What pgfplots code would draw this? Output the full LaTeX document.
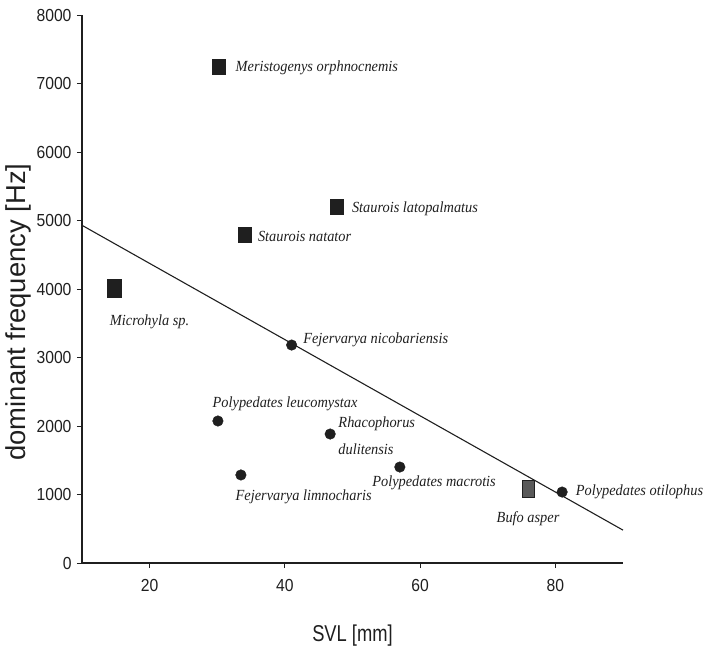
\documentclass[border=0pt]{standalone}
\usepackage{pgfplots}
\pgfplotsset{compat=1.18}
\usepackage{fontspec}
\setmainfont{Liberation Serif}
\newfontfamily\ticksf{Liberation Sans}[FakeStretch=0.9]
\newfontfamily\xlabsf{Liberation Sans}[FakeStretch=0.8]
\newfontfamily\ylabsf{Liberation Sans}
\newfontfamily\labit{Liberation Serif Italic}[FakeStretch=0.93]
\definecolor{ink}{gray}{0.12}
\tikzset{lab/.style={font=\labit\fontsize{15.5}{18}\selectfont, text=ink, inner sep=0pt, anchor=west}}
\begin{document}
\begin{tikzpicture}
\begin{axis}[
  at={(0,0)}, anchor=south west,
  scale only axis, width=541bp, height=548bp,
  xmin=10, xmax=90, ymin=0, ymax=8000,
  axis x line*=bottom, axis y line*=left,
  axis line style={-, line width=1.1pt, ink},
  xtick={20,40,60,80}, ytick={0,1000,...,8000},
  tick align=outside, major tick length=5bp,
  tick style={line width=0.9pt, ink},
  scaled ticks=false,
  /pgf/number format/1000 sep={},
  /pgf/number format/assume math mode=true,
  tick label style={font=\ticksf\fontsize{17.5}{18}\selectfont, text=ink},
  xticklabel style={yshift=-8bp},
  yticklabel style={xshift=-2bp},
  xlabel={SVL [mm]},
  xlabel style={at={(axis description cs:0.5,-0.1332)}, anchor=center, font=\xlabsf\fontsize{23}{24}\selectfont, text=ink},
  ylabel={dominant frequency [Hz]},
  ylabel style={at={(axis description cs:-0.1183,0.458)}, anchor=center, font=\ylabsf\fontsize{27.5}{29}\selectfont, text=ink},
  clip=false,
]
% regression line
\addplot[ink, line width=1.1pt] coordinates {(10,4930) (90,480)};
% squares
\addplot[only marks, mark=square*, mark size=6.5bp, mark options={ink, fill=ink, yscale=1.15}]
  coordinates {(30.2,7240) (47.7,5200) (34.1,4790)};
% Microhyla sp.
\addplot[only marks, mark=square*, mark size=8bp, mark options={ink, fill=ink, xscale=0.85, yscale=1.1}]
  coordinates {(14.8,4015)};
% Bufo asper
\addplot[only marks, mark=square*, mark size=7bp, mark options={draw=ink, fill=gray!70!black, line width=1pt, xscale=0.85, yscale=1.15}]
  coordinates {(76.0,1080)};
% circles
\addplot[only marks, mark=*, mark size=5.3bp, mark options={draw=ink, fill=ink}]
  coordinates {(41.0,3182) (30.1,2073) (46.7,1883) (33.5,1285) (57.0,1401) (81.0,1036)};
% labels
\node[lab] at (axis cs:32.7,7226) {Meristogenys orphnocnemis};
\node[lab] at (axis cs:49.9,5168) {Staurois latopalmatus};
\node[lab] at (axis cs:36.0,4774) {Staurois natator};
\node[lab] at (axis cs:14.1,3518) {Microhyla sp.};
\node[lab] at (axis cs:42.7,3255) {Fejervarya nicobariensis};
\node[lab] at (axis cs:29.3,2321) {Polypedates leucomystax};
\node[lab] at (axis cs:47.9,2029) {Rhacophorus};
\node[lab] at (axis cs:47.9,1664) {dulitensis};
\node[lab] at (axis cs:32.7,964) {Fejervarya limnocharis};
\node[lab] at (axis cs:52.9,1168) {Polypedates macrotis};
\node[lab] at (axis cs:71.3,642) {Bufo asper};
\node[lab] at (axis cs:83.0,1036) {Polypedates otilophus};
\end{axis}
\pgfresetboundingbox
\path[use as bounding box] (-82bp,-93bp) rectangle (627bp,563bp);
\end{tikzpicture}
\end{document}
